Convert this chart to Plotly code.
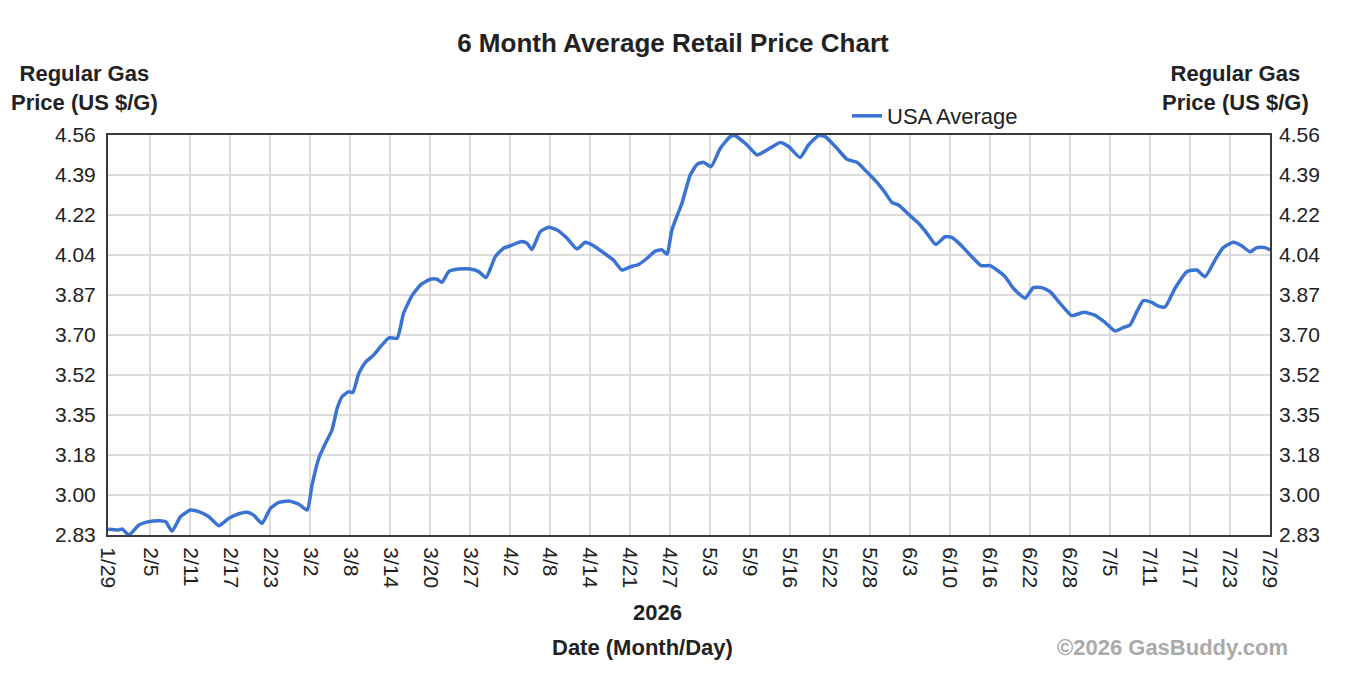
import numpy as np
import plotly.graph_objects as go

# ---- data ----
# x positions are expressed in tick-interval units (tick k at k, first label at the left edge)
tick_labels = ["1/29", "2/5", "2/11", "2/17", "2/23", "3/2", "3/8", "3/14", "3/20", "3/27",
               "4/2", "4/8", "4/14", "4/21", "4/27", "5/3", "5/9", "5/16", "5/22", "5/28",
               "6/3", "6/10", "6/16", "6/22", "6/28", "7/5", "7/11", "7/17", "7/23", "7/29"]

pos = [-0.06, 0.21, 0.29, 0.46, 0.71, 0.96, 1.21, 1.375, 1.54, 1.75, 2.0, 2.21, 2.46, 2.71, 2.96,
       3.21, 3.42, 3.58, 3.79, 4.0, 4.21, 4.46, 4.71, 4.92, 5.04, 5.21, 5.375, 5.54, 5.67, 5.79,
       5.96, 6.06, 6.21, 6.375, 6.58, 6.79, 6.96, 7.17, 7.33, 7.54, 7.75, 8.0, 8.17, 8.29, 8.46,
       8.71, 9.0, 9.21, 9.39, 9.625, 9.83, 10.0, 10.29, 10.42, 10.54, 10.75, 10.96, 11.17, 11.42,
       11.67, 11.875, 12.08, 12.33, 12.58, 12.79, 13.0, 13.21, 13.42, 13.625, 13.79, 13.92, 14.04,
       14.29, 14.5, 14.67, 14.83, 15.02, 15.25, 15.5, 15.625, 15.92, 16.17, 16.42, 16.75, 16.96,
       17.25, 17.46, 17.71, 17.875, 18.17, 18.42, 18.67, 18.92, 19.17, 19.375, 19.54, 19.71, 19.96,
       20.21, 20.42, 20.64, 20.875, 21.04, 21.25, 21.5, 21.775, 22.0, 22.17, 22.375, 22.58, 22.875,
       23.08, 23.29, 23.5, 23.75, 24.04, 24.35, 24.6, 24.85, 25.125, 25.33, 25.5, 25.67, 25.83,
       26.04, 26.21, 26.375, 26.625, 26.92, 27.17, 27.375, 27.625, 27.83, 28.08, 28.29, 28.5,
       28.67, 28.875, 29.0]

price = [2.855, 2.852, 2.856, 2.830, 2.873, 2.888, 2.892, 2.888, 2.847, 2.909, 2.938, 2.931, 2.909,
         2.870, 2.902, 2.922, 2.928, 2.916, 2.880, 2.945, 2.971, 2.977, 2.963, 2.938, 3.046, 3.162,
         3.226, 3.284, 3.378, 3.428, 3.450, 3.446, 3.529, 3.577, 3.608, 3.652, 3.683, 3.681, 3.789,
         3.865, 3.911, 3.936, 3.936, 3.923, 3.969, 3.980, 3.980, 3.969, 3.943, 4.034, 4.070, 4.081,
         4.099, 4.091, 4.065, 4.142, 4.161, 4.149, 4.113, 4.067, 4.096, 4.081, 4.051, 4.019, 3.976,
         3.990, 4.000, 4.027, 4.058, 4.063, 4.044, 4.149, 4.264, 4.387, 4.433, 4.442, 4.423, 4.502,
         4.553, 4.557, 4.517, 4.474, 4.495, 4.528, 4.510, 4.463, 4.517, 4.557, 4.553, 4.502, 4.455,
         4.442, 4.400, 4.355, 4.310, 4.269, 4.257, 4.217, 4.178, 4.135, 4.087, 4.120, 4.117, 4.087,
         4.041, 3.995, 3.995, 3.976, 3.947, 3.897, 3.854, 3.900, 3.900, 3.882, 3.832, 3.779, 3.793,
         3.782, 3.753, 3.712, 3.727, 3.738, 3.796, 3.844, 3.836, 3.820, 3.816, 3.897, 3.969, 3.976,
         3.947, 4.019, 4.073, 4.096, 4.081, 4.055, 4.073, 4.073, 4.063]

y_tick_labels = ["2.83", "3.00", "3.18", "3.35", "3.52", "3.70", "3.87", "4.04", "4.22", "4.39", "4.56"]
y_min, y_max = 2.83, 4.56
x_start = -0.0625

y_tickvals = list(np.linspace(y_min, y_max, len(y_tick_labels)))
x_tickvals = [x_start] + list(range(1, len(tick_labels)))

FONT = "Liberation Sans, Arial, sans-serif"
TXT = "#222222"
TICK_SIZE = 21

fig = go.Figure()
fig.add_trace(go.Scatter(
    x=pos, y=price, mode="lines", name="USA Average",
    line=dict(color="#3b73d4", width=3.5, shape="spline", smoothing=0.5),
))

axis_common = dict(
    showline=True, linecolor="#3a3a3a", linewidth=2, mirror=True,
    ticks="", zeroline=False,
    tickfont=dict(family=FONT, size=TICK_SIZE, color=TXT),
)

fig.update_layout(
    width=1354, height=680,
    margin=dict(l=108, r=84, t=135, b=145),
    paper_bgcolor="white", plot_bgcolor="white",
    title=dict(text="6 Month Average Retail Price Chart", x=0.497, xanchor="center",
               y=1 - 43 / 680, yanchor="middle",
               font=dict(family=FONT, size=26, color=TXT, weight="bold")),
    xaxis=dict(range=[x_start, 29], tickvals=x_tickvals, ticktext=tick_labels, tickangle=90,
               showgrid=True, gridcolor="#dcdcdc", gridwidth=2, ticklabelstandoff=6,
               **axis_common),
    yaxis=dict(range=[y_min, y_max], tickvals=y_tickvals, ticktext=y_tick_labels,
               showgrid=True, gridcolor="#dcdcdc", gridwidth=2, ticklabelstandoff=6,
               **axis_common),
    yaxis2=dict(range=[y_min, y_max], tickvals=y_tickvals, ticktext=y_tick_labels,
                overlaying="y", side="right", showgrid=False, showline=False, ticks="",
                zeroline=False, ticklabelstandoff=8,
                tickfont=dict(family=FONT, size=TICK_SIZE, color=TXT)),
    showlegend=True,
    legend=dict(orientation="h", x=0.636, xanchor="left", y=1.0475, yanchor="middle",
                font=dict(family=FONT, size=22, color=TXT), bgcolor="rgba(0,0,0,0)"),
)

ann_font = dict(family=FONT, size=22, color=TXT, weight="bold")
fig.add_annotation(text="Regular Gas<br>Price (US $/G)", xref="paper", yref="paper",
                   x=-0.0198, y=1.1175, xanchor="center", yanchor="middle",
                   showarrow=False, font=ann_font, align="center")
fig.add_annotation(text="Regular Gas<br>Price (US $/G)", xref="paper", yref="paper",
                   x=0.97, y=1.1175, xanchor="center", yanchor="middle",
                   showarrow=False, font=ann_font, align="center")
fig.add_annotation(text="2026", xref="paper", yref="paper", x=0.4733, y=-0.1925,
                   xanchor="center", yanchor="middle", showarrow=False, font=ann_font)
fig.add_annotation(text="Date (Month/Day)", xref="paper", yref="paper", x=0.4604, y=-0.28,
                   xanchor="center", yanchor="middle", showarrow=False, font=ann_font)
fig.add_annotation(text="©2026 GasBuddy.com", xref="paper", yref="paper", x=0.9165, y=-0.28,
                   xanchor="center", yanchor="middle", showarrow=False,
                   font=dict(family=FONT, size=22, color="#aaaaaa", weight="bold"))

# invisible trace to attach the right axis
fig.add_trace(go.Scatter(x=[pos[0]], y=[price[0]], yaxis="y2", mode="lines",
                         line=dict(width=0), showlegend=False, hoverinfo="skip"))

fig.write_html("out.html")
